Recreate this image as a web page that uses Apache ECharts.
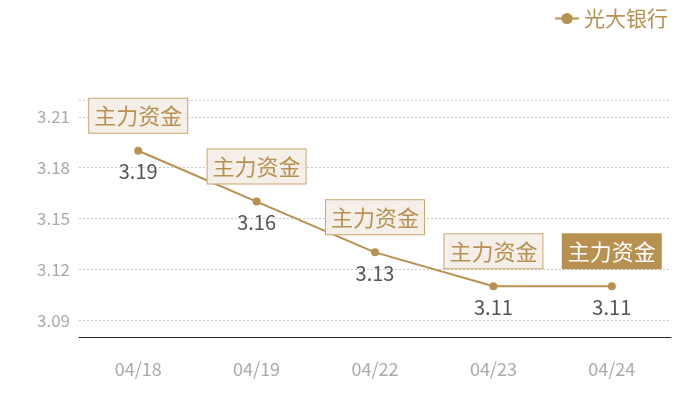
<!DOCTYPE html>
<html>
<head>
<meta charset="utf-8">
<script src="https://cdn.jsdelivr.net/npm/echarts@6/dist/echarts.min.js"></script>
<style>
  html, body { margin: 0; padding: 0; background: #fff; }
  #chart { width: 700px; height: 400px; }
</style>
</head>
<body>
<div id="chart"></div>
<script>
// data
var dates = ['04/18', '04/19', '04/22', '04/23', '04/24'];
var prices = [3.19, 3.16, 3.13, 3.11, 3.11];
var seriesName = '光大银行';
var tagText = '主力资金';
var yTicks = ['3.09', '3.12', '3.15', '3.18', '3.21'];

var gold = '#b8904f';

// split line colours: every 0.01 is a tick, only the labelled ones (and the top) get a line
var lineColors = [];
for (var v = 308; v <= 322; v++) {
    var s = (v / 100).toFixed(2);
    lineColors.push(yTicks.indexOf(s) >= 0 || v === 322 ? '#c8c8c8' : 'rgba(0,0,0,0)');
}

var tags = prices.map(function (p, i) {
    var last = i === prices.length - 1;
    return {
        coord: [i, p],
        value: tagText,
        label: {
            color: last ? '#fff' : gold,
            backgroundColor: last ? gold : '#f4f0e9',
            borderColor: last ? gold : '#caa56d',
        }
    };
});

var chart = echarts.init(document.getElementById('chart'));
chart.setOption({
    animation: false,
    textStyle: { fontFamily: 'Noto Sans CJK SC' },
    legend: {
        data: [seriesName],
        right: 27, top: 3,
        itemWidth: 24, itemGap: 6,
        textStyle: { color: gold, fontSize: 21, fontFamily: 'Noto Sans CJK SC' }
    },
    grid: { left: 79, right: 29, top: 100, bottom: 63 },
    xAxis: {
        type: 'category',
        data: dates,
        axisLine: { lineStyle: { color: '#222', width: 1 } },
        axisTick: { show: false },
        axisLabel: { color: '#aaa', fontSize: 18, margin: 23 }
    },
    yAxis: {
        type: 'value',
        min: 3.08, max: 3.22, interval: 0.01,
        axisLine: { show: false },
        axisTick: { show: false },
        axisLabel: {
            color: '#aaa', fontSize: 17, margin: 9,
            formatter: function (val) {
                var s = val.toFixed(2);
                return yTicks.indexOf(s) >= 0 ? s : '';
            }
        },
        splitLine: { lineStyle: { type: [2, 2], color: lineColors } }
    },
    series: [{
        name: seriesName,
        type: 'line',
        data: prices,
        symbol: 'circle',
        symbolSize: 8,
        itemStyle: { color: gold },
        lineStyle: { color: gold, width: 2 },
        label: {
            show: true, position: 'bottom', distance: 7,
            color: '#555', fontSize: 20,
            formatter: function (p) { return p.value.toFixed(2); }
        },
        markPoint: {
            symbol: 'circle',
            symbolSize: 0,
            label: {
                show: true,
                position: 'inside',
                offset: [0, -35],
                fontSize: 22,
                lineHeight: 26,
                padding: [4, 5],
                borderWidth: 1,
                formatter: function () { return tagText; }
            },
            data: tags
        }
    }]
});
</script>
</body>
</html>
